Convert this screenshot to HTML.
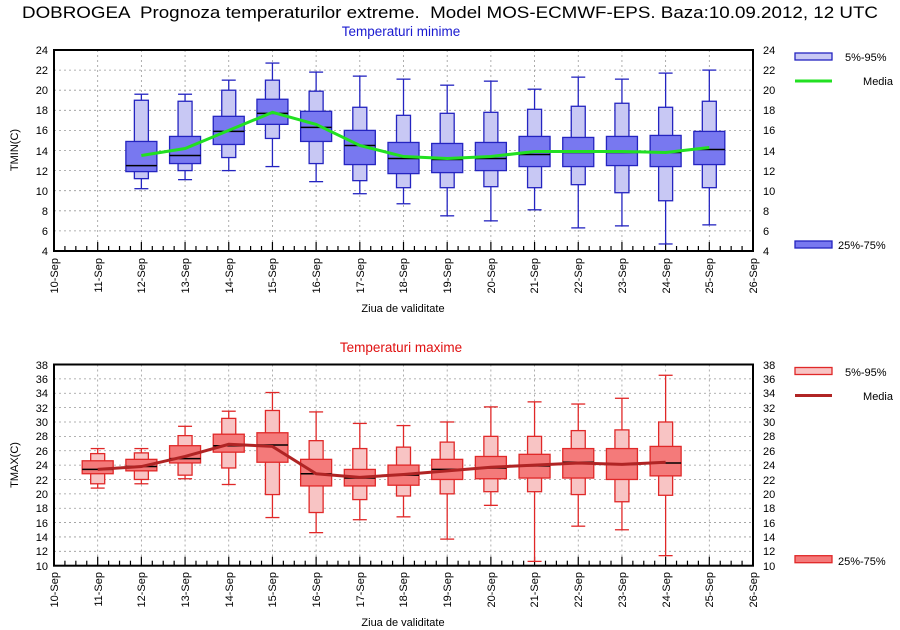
<!DOCTYPE html>
<html><head><meta charset="utf-8"><style>
body{margin:0;background:#fff;width:900px;height:630px;overflow:hidden}
svg{display:block;font-family:"Liberation Sans",sans-serif}
</style></head><body>
<svg id="s" width="900" height="630" viewBox="0 0 900 630" xmlns="http://www.w3.org/2000/svg">
<rect width="900" height="630" fill="#fff"/>
<g id="g"></g>
<text x="22" y="18" font-size="16.5" xml:space="preserve" textLength="856" lengthAdjust="spacingAndGlyphs">DOBROGEA  Prognoza temperaturilor extreme.  Model MOS-ECMWF-EPS. Baza:10.09.2012, 12 UTC</text>
<text x="401" y="36" font-size="13.5" text-anchor="middle" fill="#1a1ad0">Temperaturi minime</text>
<text x="401" y="352" font-size="13.5" text-anchor="middle" fill="#e01010">Temperaturi maxime</text>
<text x="403" y="312" font-size="11" text-anchor="middle">Ziua de validitate</text>
<text x="403" y="626" font-size="11" text-anchor="middle">Ziua de validitate</text>
<text transform="translate(18,150) rotate(-90)" font-size="11" text-anchor="middle">TMIN(C)</text>
<text transform="translate(18,465) rotate(-90)" font-size="11" text-anchor="middle">TMAX(C)</text>
<g font-size="11" text-anchor="end">
<text x="48" y="54">24</text><text x="48" y="74">22</text><text x="48" y="94">20</text><text x="48" y="114">18</text><text x="48" y="134">16</text><text x="48" y="155">14</text><text x="48" y="175">12</text><text x="48" y="195">10</text><text x="48" y="215">8</text><text x="48" y="235">6</text><text x="48" y="255">4</text>
<text x="48" y="369">38</text><text x="48" y="383">36</text><text x="48" y="397">34</text><text x="48" y="412">32</text><text x="48" y="426">30</text><text x="48" y="440">28</text><text x="48" y="455">26</text><text x="48" y="469">24</text><text x="48" y="484">22</text><text x="48" y="498">20</text><text x="48" y="512">18</text><text x="48" y="527">16</text><text x="48" y="541">14</text><text x="48" y="555">12</text><text x="48" y="570">10</text>
</g>
<g font-size="11" text-anchor="start">
<text x="763" y="54">24</text><text x="763" y="74">22</text><text x="763" y="94">20</text><text x="763" y="114">18</text><text x="763" y="134">16</text><text x="763" y="155">14</text><text x="763" y="175">12</text><text x="763" y="195">10</text><text x="763" y="215">8</text><text x="763" y="235">6</text><text x="763" y="255">4</text>
<text x="763" y="369">38</text><text x="763" y="383">36</text><text x="763" y="397">34</text><text x="763" y="412">32</text><text x="763" y="426">30</text><text x="763" y="440">28</text><text x="763" y="455">26</text><text x="763" y="469">24</text><text x="763" y="484">22</text><text x="763" y="498">20</text><text x="763" y="512">18</text><text x="763" y="527">16</text><text x="763" y="541">14</text><text x="763" y="555">12</text><text x="763" y="570">10</text>
</g>
<g font-size="11" text-anchor="end">
<text transform="translate(58,258) rotate(-90)">10-Sep</text><text transform="translate(102,258) rotate(-90)">11-Sep</text><text transform="translate(145,258) rotate(-90)">12-Sep</text><text transform="translate(189,258) rotate(-90)">13-Sep</text><text transform="translate(233,258) rotate(-90)">14-Sep</text><text transform="translate(276,258) rotate(-90)">15-Sep</text><text transform="translate(320,258) rotate(-90)">16-Sep</text><text transform="translate(364,258) rotate(-90)">17-Sep</text><text transform="translate(407,258) rotate(-90)">18-Sep</text><text transform="translate(451,258) rotate(-90)">19-Sep</text><text transform="translate(495,258) rotate(-90)">20-Sep</text><text transform="translate(538,258) rotate(-90)">21-Sep</text><text transform="translate(582,258) rotate(-90)">22-Sep</text><text transform="translate(626,258) rotate(-90)">23-Sep</text><text transform="translate(670,258) rotate(-90)">24-Sep</text><text transform="translate(713,258) rotate(-90)">25-Sep</text><text transform="translate(757,258) rotate(-90)">26-Sep</text>
<text transform="translate(58,572) rotate(-90)">10-Sep</text><text transform="translate(102,572) rotate(-90)">11-Sep</text><text transform="translate(145,572) rotate(-90)">12-Sep</text><text transform="translate(189,572) rotate(-90)">13-Sep</text><text transform="translate(233,572) rotate(-90)">14-Sep</text><text transform="translate(276,572) rotate(-90)">15-Sep</text><text transform="translate(320,572) rotate(-90)">16-Sep</text><text transform="translate(364,572) rotate(-90)">17-Sep</text><text transform="translate(407,572) rotate(-90)">18-Sep</text><text transform="translate(451,572) rotate(-90)">19-Sep</text><text transform="translate(495,572) rotate(-90)">20-Sep</text><text transform="translate(538,572) rotate(-90)">21-Sep</text><text transform="translate(582,572) rotate(-90)">22-Sep</text><text transform="translate(626,572) rotate(-90)">23-Sep</text><text transform="translate(670,572) rotate(-90)">24-Sep</text><text transform="translate(713,572) rotate(-90)">25-Sep</text><text transform="translate(757,572) rotate(-90)">26-Sep</text>
</g>
<g font-size="11">
<text x="845" y="61">5%-95%</text><text x="893" y="85" text-anchor="end">Media</text><text x="838" y="249">25%-75%</text>
<text x="845" y="376">5%-95%</text><text x="893" y="400" text-anchor="end">Media</text><text x="838" y="565">25%-75%</text>
</g>
</svg>
<script>
var g=document.getElementById('g'),h='';
function X(d){return 54+(d-10)*43.6875;}
function r(a,b,c,d,f,s,w){h+='<rect x="'+a+'" y="'+b+'" width="'+c+'" height="'+d+'" fill="'+f+'" stroke="'+s+'" stroke-width="'+(w||1.3)+'"/>';}
function l(a,b,c,d,s,w,da){h+='<line x1="'+a+'" y1="'+b+'" x2="'+c+'" y2="'+d+'" stroke="'+s+'" stroke-width="'+w+'"'+(da?' stroke-dasharray="'+da+'"':'')+'/>';}
function panel(top,bot,vmin,vmax,step,data,d0,lf,df,st,mc){
 var Y=function(v){return bot-(v-vmin)*(bot-top)/(vmax-vmin);};
 for(var v=vmin+step;v<vmax;v+=step)l(54,Y(v),753,Y(v),'#999',0.8,'2,3');
 for(var d=11;d<26;d++)l(X(d),top,X(d),bot,'#999',0.8,'2,3');
 for(var d=10;d<26;d++){l(X(d),bot,X(d),bot-9,'#000',1.2);for(var k=1;k<4;k++)l(X(d+k/4),bot,X(d+k/4),bot-5,'#000',1.2);}
 var pts=[];
 data.forEach(function(a,i){var x=X(d0+i);
  l(x,Y(a[0]),x,Y(a[6]),st,1.3);l(x-7,Y(a[0]),x+7,Y(a[0]),st,1.3);l(x-7,Y(a[6]),x+7,Y(a[6]),st,1.3);
  r(x-7,Y(a[5]),14,Y(a[1])-Y(a[5]),lf,st);
  r(x-15.5,Y(a[4]),31,Y(a[2])-Y(a[4]),df,st);
  l(x-15.5,Y(a[3]),x+15.5,Y(a[3]),'#000',1.5);
  pts.push(x+','+Y(a[7]));});
 h+='<polyline points="'+pts.join(' ')+'" fill="none" stroke="'+mc+'" stroke-width="3"/>';
 h+='<rect x="54" y="'+top+'" width="699" height="'+(bot-top)+'" fill="none" stroke="#000" stroke-width="2"/>';
 var ly=top+3;
 r(795,ly,37,7,lf,st);l(795,ly+28,832,ly+28,mc,3);r(795,bot-10,37,7,df,st);
}
var tmin=[[10.2,11.2,11.9,12.5,14.9,19,19.6,13.5],[11.1,12,12.7,13.5,15.4,18.9,19.6,14.2],[12,13.3,14.6,15.9,17.4,20,21,16],[12.4,15.2,16.6,17.7,19.1,21,22.7,17.8],[10.9,12.7,14.9,16.3,17.9,19.9,21.8,16.6],[9.7,11,12.6,14.5,16,18.3,21.4,14.5],[8.7,10.3,11.7,13.2,14.8,17.5,21.1,13.4],[7.5,10.3,11.8,13.1,14.7,17.7,20.5,13.2],[7,10.4,12,13.2,14.8,17.8,20.9,13.4],[8.1,10.3,12.4,13.6,15.4,18.1,20.1,13.9],[6.3,10.6,12.4,13.8,15.3,18.4,21.3,13.9],[6.5,9.8,12.5,13.8,15.4,18.7,21.1,13.9],[4.7,9,12.4,13.8,15.5,18.3,21.7,13.8],[6.6,10.3,12.6,14.1,15.9,18.9,22,14.3]];
var tmax=[[20.8,21.4,22.8,23.4,24.6,25.6,26.3,23.4],[21.4,22,23.2,23.8,24.8,25.7,26.3,23.8],[22.1,22.6,24.3,24.9,26.7,28.1,29.4,25.2],[21.3,23.6,25.8,26.7,28.3,30.5,31.5,26.9],[16.7,19.9,24.4,26.8,28.5,31.6,34.1,26.6],[14.6,17.4,21.1,22.8,24.8,27.4,31.4,22.8],[16.4,19.2,21.1,22.2,23.4,26.3,29.8,22.3],[16.8,19.7,21.2,22.6,24,26.5,29.5,22.7],[13.7,20,22,23.4,24.8,27.2,30,23.2],[18.4,20.3,22.1,23.6,25.2,28,32.1,23.7],[10.6,20.3,22.2,23.9,25.5,28,32.8,24],[15.5,19.9,22.2,24.4,26.3,28.8,32.5,24.3],[15,18.9,22,24.1,26.3,28.9,33.3,24.1],[11.4,19.8,22.5,24.3,26.6,30,36.5,24.4]];
panel(50,251,4,24,2,tmin,12,'#c8c8f4','#7878f0','#2424c0','#22e022');
panel(364.5,565.7,10,38,2,tmax,11,'#f8c4c4','#f47a7a','#e02828','#b02424');
g.innerHTML=h;
</script>
</body></html>
